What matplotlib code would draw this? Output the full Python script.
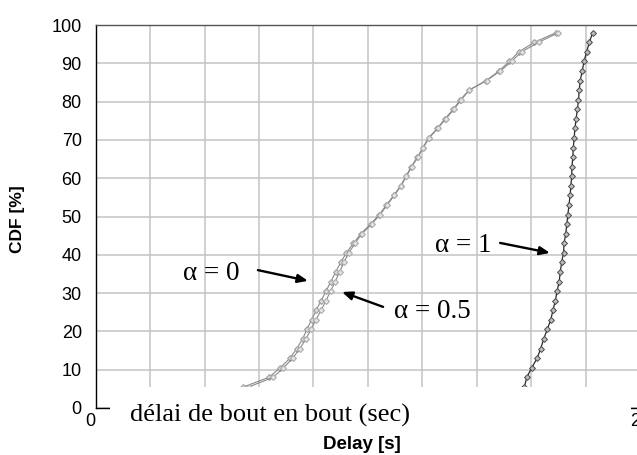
import matplotlib
matplotlib.use("Agg")
import matplotlib.pyplot as plt
from matplotlib.patches import Rectangle

# Cumulative levels (%) at which the delay samples were taken
cdf_levels = [5.5, 8, 10.5, 13, 15.5, 18, 20.5, 23, 25.5, 28, 30.5, 33, 35.5, 38,
              40.5, 43, 45.5, 48, 50.5, 53, 55.5, 58, 60.5, 63, 65.5, 68, 70.5, 73,
              75.5, 78, 80.5, 83, 85.5, 88, 90.5, 93, 95.5, 98]

# End-to-end delay (s) for each weighting factor alpha
delay_alpha0 = [0.543, 0.636, 0.678, 0.714, 0.739, 0.760, 0.776, 0.793, 0.810, 0.828,
                0.846, 0.864, 0.882, 0.900, 0.921, 0.947, 0.974, 1.010, 1.042, 1.068,
                1.095, 1.120, 1.140, 1.159, 1.182, 1.202, 1.223, 1.255, 1.283, 1.314,
                1.340, 1.372, 1.435, 1.482, 1.520, 1.555, 1.612, 1.692]
delay_alpha05 = [0.562, 0.652, 0.690, 0.724, 0.750, 0.772, 0.791, 0.809, 0.828, 0.846,
                 0.863, 0.880, 0.896, 0.912, 0.930, 0.953, 0.978, 1.014, 1.045, 1.071,
                 1.097, 1.122, 1.142, 1.161, 1.184, 1.204, 1.225, 1.257, 1.286, 1.317,
                 1.343, 1.373, 1.436, 1.487, 1.528, 1.565, 1.628, 1.700]
delay_alpha1 = [1.575, 1.584, 1.602, 1.622, 1.635, 1.646, 1.659, 1.672, 1.680, 1.689,
                1.695, 1.703, 1.707, 1.712, 1.719, 1.721, 1.727, 1.731, 1.735, 1.739,
                1.743, 1.746, 1.749, 1.750, 1.753, 1.755, 1.758, 1.761, 1.765, 1.770,
                1.774, 1.777, 1.780, 1.788, 1.794, 1.804, 1.814, 1.826]

# Only the end labels of the delay axis stay readable beside the caption panel
x_ticks = [0, 0.2, 0.4, 0.6, 0.8, 1.0, 1.2, 1.4, 1.6, 1.8, 2.0]
x_tick_labels = ["0", "", "", "", "", "", "", "", "", "", "2"]
y_ticks = [0, 10, 20, 30, 40, 50, 60, 70, 80, 90, 100]

W, H = 637, 455
fig = plt.figure(figsize=(W / 100, H / 100), dpi=100)
ax = fig.add_axes([95.7 / W, 1 - 408 / H, 544.3 / W, 383 / H])

ax.set_xlim(0, 2)
ax.set_ylim(0, 100)
ax.set_xticks(x_ticks)
ax.set_xticklabels(x_tick_labels)
ax.set_yticks(y_ticks)
ax.grid(True, color="#c4c4c4", linewidth=1.1)
ax.set_axisbelow(True)
ax.tick_params(axis="both", length=0, labelsize=13)
ax.tick_params(axis="y", pad=10)
ax.tick_params(axis="x", pad=3.5)
for lab in ax.get_xticklabels() + ax.get_yticklabels():
    lab.set_fontfamily("Liberation Sans")
xlabs = ax.get_xticklabels()
xlabs[0].set_horizontalalignment("right")
xlabs[0].set_x(0.012)
xlabs[-1].set_horizontalalignment("right")

ax.spines["left"].set_color("black")
ax.spines["bottom"].set_color("black")
ax.spines["top"].set_color("#555555")
ax.spines["right"].set_color("#555555")
for s in ax.spines.values():
    s.set_linewidth(1.0)

# Curves
ax.plot(delay_alpha0, cdf_levels, color="#8a8a8a", linewidth=0.8,
        marker="D", markersize=3.0, markerfacecolor="#d8d8d8",
        markeredgecolor="#a0a0a0", markeredgewidth=0.8, zorder=3)
ax.plot(delay_alpha05, cdf_levels, color="#8a8a8a", linewidth=0.8,
        marker="D", markersize=3.0, markerfacecolor="#e4e4e4",
        markeredgecolor="#acacac", markeredgewidth=0.8, zorder=3)
ax.plot(delay_alpha1, cdf_levels, color="#2a2a2a", linewidth=0.9,
        marker="D", markersize=3.0, markerfacecolor="#bdbdbd",
        markeredgecolor="#4a4a4a", markeredgewidth=0.7, zorder=4)

# Axis labels
ax.set_ylabel("CDF [%]", fontsize=12.5, fontweight="bold", family="Liberation Sans")
ax.yaxis.set_label_coords(-0.1428, 0.4935)
ax.yaxis.label.set_va("center")
ax.set_xlabel("Delay [s]", fontsize=13.5, fontweight="bold", family="Liberation Sans")
ax.xaxis.set_label_coords(0.489, -0.0966)
ax.xaxis.label.set_va("center")

# Annotations
serif = dict(family="Liberation Serif", fontsize=19.5)
arrow = dict(arrowstyle="-|>,head_length=0.6,head_width=0.25", color="black",
             linewidth=1.7, shrinkA=0, shrinkB=0)
ax.annotate("", xy=(0.780, 33.2), xytext=(0.596, 36.0), arrowprops=arrow, zorder=6)
ax.text(0.424, 33.4, "α = 0", ha="center", va="baseline", **serif, zorder=6)
ax.annotate("", xy=(0.905, 30.3), xytext=(1.056, 26.4), arrowprops=arrow, zorder=6)
ax.text(1.2376, 23.5, "α = 0.5", ha="center", va="baseline", **serif, zorder=6)
ax.annotate("", xy=(1.669, 40.5), xytext=(1.486, 43.1), arrowprops=arrow, zorder=6)
ax.text(1.351, 40.7, "α = 1", ha="center", va="baseline", **serif, zorder=6)

# Caption panel laid over the lower part of the plot
fig.patches.append(Rectangle((110 / W, 1 - 433 / H), (631 - 110) / W, (433 - 387) / H,
                             transform=fig.transFigure, facecolor="white",
                             edgecolor="none", zorder=10))
fig.text(130 / W, 1 - 421.5 / H, "délai de bout en bout (sec)", ha="left",
         va="baseline", family="Liberation Serif", fontsize=19, zorder=11)

fig.savefig("out.png", dpi=100)
